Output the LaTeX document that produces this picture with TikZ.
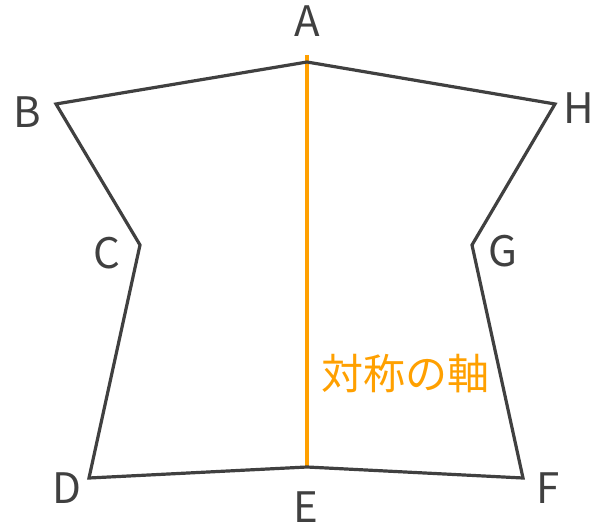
\documentclass[tikz,border=0pt]{standalone}
\usepackage{fontspec}
\setmainfont{Noto Sans CJK JP}
\begin{document}
\begin{tikzpicture}[x=1pt,y=-1pt,
  edge/.style={draw=shapegray,line width=3.2pt,line join=miter},
  axisline/.style={draw=axisorange,line width=3.2pt},
  lbl/.style={text=labelgray,font=\fontsize{42}{42}\selectfont,inner sep=0pt,anchor=center}]
\definecolor{shapegray}{HTML}{404040}
\definecolor{labelgray}{HTML}{404040}
\definecolor{axisorange}{HTML}{FFA000}
\useasboundingbox (0,0) rectangle (593,529);
\coordinate (A) at (307,62);
\coordinate (B) at (56,104);
\coordinate (C) at (140,245);
\coordinate (D) at (89,478);
\coordinate (E) at (307,467);
\coordinate (F) at (523,478);
\coordinate (G) at (472,245);
\coordinate (H) at (555,104);
\coordinate (top) at (307,55);
\draw[axisline] (top) -- (E);
\draw[edge] (A) -- (B) -- (C) -- (D) -- (E) -- (F) -- (G) -- (H) -- cycle;
\node[lbl] (lA) at (307,21) {A};
\node[lbl] (lB) at (27,112) {B};
\node[lbl] (lC) at (107,253) {C};
\node[lbl] (lD) at (67,488) {D};
\node[lbl] (lE) at (306,507) {E};
\node[lbl] (lF) at (548,488) {F};
\node[lbl] (lG) at (503,251) {G};
\node[lbl] (lH) at (579,108) {H};
\node[text=axisorange,font=\fontsize{42}{42}\selectfont,inner sep=0pt] (ax) at (405,374) {対称の軸};
\end{tikzpicture}
\end{document}
